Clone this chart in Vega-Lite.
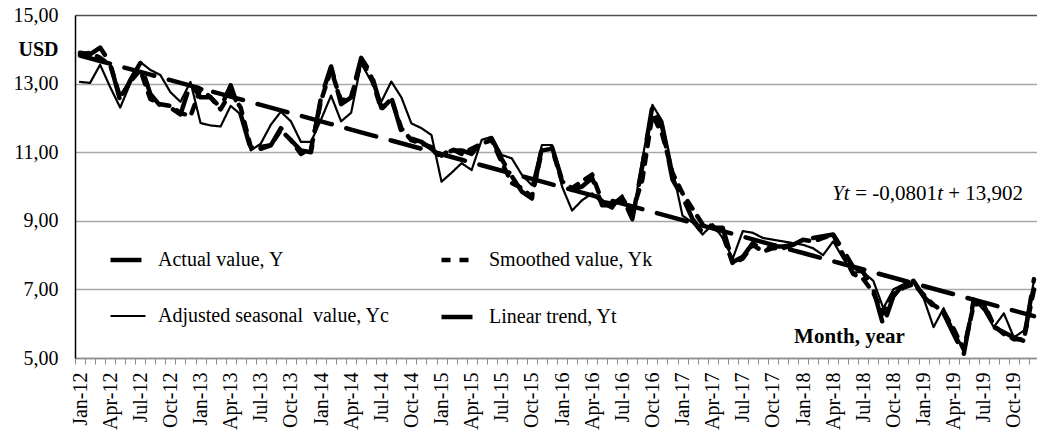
{
  "$schema": "https://vega.github.io/schema/vega-lite/v6.json",
  "width": 964,
  "height": 343,
  "autosize": "none",
  "padding": {"left": 75, "top": 15, "right": 0, "bottom": 75},
  "background": "white",
  "config": {
    "view": {"stroke": null},
    "font": "Liberation Serif",
    "legend": {"padding": 0}
  },
  "data": {"values": [
    {"m":"Jan-12","Y":13.90,"Yk":13.85,"Yc":13.05,"Yt":13.82},
    {"m":"Feb-12","Y":13.85,"Yk":13.90,"Yc":13.02,"Yt":13.74},
    {"m":"Mar-12","Y":14.05,"Yk":13.75,"Yc":13.55,"Yt":13.66},
    {"m":"Apr-12","Y":13.60,"Yk":13.55,"Yc":12.90,"Yt":13.58},
    {"m":"May-12","Y":12.50,"Yk":12.60,"Yc":12.30,"Yt":13.50},
    {"m":"Jun-12","Y":13.10,"Yk":13.05,"Yc":13.00,"Yt":13.42},
    {"m":"Jul-12","Y":13.60,"Yk":13.40,"Yc":13.63,"Yt":13.34},
    {"m":"Aug-12","Y":12.70,"Yk":12.55,"Yc":13.40,"Yt":13.26},
    {"m":"Sep-12","Y":12.35,"Yk":12.40,"Yc":13.25,"Yt":13.18},
    {"m":"Oct-12","Y":12.30,"Yk":12.35,"Yc":12.75,"Yt":13.10},
    {"m":"Nov-12","Y":12.10,"Yk":12.15,"Yc":12.47,"Yt":13.02},
    {"m":"Dec-12","Y":13.00,"Yk":12.05,"Yc":13.05,"Yt":12.94},
    {"m":"Jan-13","Y":12.60,"Yk":12.85,"Yc":11.85,"Yt":12.86},
    {"m":"Feb-13","Y":12.60,"Yk":12.60,"Yc":11.78,"Yt":12.78},
    {"m":"Mar-13","Y":12.30,"Yk":12.25,"Yc":11.75,"Yt":12.70},
    {"m":"Apr-13","Y":12.95,"Yk":12.75,"Yc":12.35,"Yt":12.62},
    {"m":"May-13","Y":12.10,"Yk":12.30,"Yc":12.10,"Yt":12.54},
    {"m":"Jun-13","Y":11.10,"Yk":11.15,"Yc":11.05,"Yt":12.46},
    {"m":"Jul-13","Y":11.15,"Yk":11.10,"Yc":11.25,"Yt":12.38},
    {"m":"Aug-13","Y":11.20,"Yk":11.20,"Yc":11.80,"Yt":12.30},
    {"m":"Sep-13","Y":11.70,"Yk":11.65,"Yc":12.18,"Yt":12.22},
    {"m":"Oct-13","Y":11.35,"Yk":11.35,"Yc":11.90,"Yt":12.14},
    {"m":"Nov-13","Y":11.05,"Yk":10.95,"Yc":11.30,"Yt":12.06},
    {"m":"Dec-13","Y":11.00,"Yk":11.10,"Yc":11.30,"Yt":11.98},
    {"m":"Jan-14","Y":12.60,"Yk":12.50,"Yc":11.95,"Yt":11.90},
    {"m":"Feb-14","Y":13.50,"Yk":13.40,"Yc":12.65,"Yt":11.82},
    {"m":"Mar-14","Y":12.40,"Yk":12.50,"Yc":11.90,"Yt":11.74},
    {"m":"Apr-14","Y":12.60,"Yk":12.60,"Yc":12.15,"Yt":11.66},
    {"m":"May-14","Y":13.75,"Yk":13.65,"Yc":13.60,"Yt":11.58},
    {"m":"Jun-14","Y":13.30,"Yk":13.20,"Yc":13.06,"Yt":11.50},
    {"m":"Jul-14","Y":12.30,"Yk":12.25,"Yc":12.47,"Yt":11.42},
    {"m":"Aug-14","Y":12.60,"Yk":12.55,"Yc":13.06,"Yt":11.34},
    {"m":"Sep-14","Y":11.60,"Yk":11.70,"Yc":12.60,"Yt":11.26},
    {"m":"Oct-14","Y":11.40,"Yk":11.35,"Yc":11.84,"Yt":11.18},
    {"m":"Nov-14","Y":11.30,"Yk":11.25,"Yc":11.70,"Yt":11.10},
    {"m":"Dec-14","Y":11.10,"Yk":11.15,"Yc":11.50,"Yt":11.02},
    {"m":"Jan-15","Y":10.85,"Yk":10.90,"Yc":10.14,"Yt":10.94},
    {"m":"Feb-15","Y":11.05,"Yk":11.10,"Yc":10.40,"Yt":10.86},
    {"m":"Mar-15","Y":11.05,"Yk":10.95,"Yc":10.68,"Yt":10.78},
    {"m":"Apr-15","Y":10.95,"Yk":11.10,"Yc":10.48,"Yt":10.70},
    {"m":"May-15","Y":11.30,"Yk":11.25,"Yc":11.36,"Yt":10.62},
    {"m":"Jun-15","Y":11.40,"Yk":11.35,"Yc":11.45,"Yt":10.54},
    {"m":"Jul-15","Y":10.80,"Yk":10.70,"Yc":10.92,"Yt":10.46},
    {"m":"Aug-15","Y":10.30,"Yk":10.10,"Yc":10.82,"Yt":10.38},
    {"m":"Sep-15","Y":9.85,"Yk":9.95,"Yc":10.34,"Yt":10.30},
    {"m":"Oct-15","Y":9.65,"Yk":9.70,"Yc":10.04,"Yt":10.22},
    {"m":"Nov-15","Y":11.15,"Yk":11.05,"Yc":11.21,"Yt":10.14},
    {"m":"Dec-15","Y":11.15,"Yk":11.10,"Yc":11.21,"Yt":10.06},
    {"m":"Jan-16","Y":10.20,"Yk":10.15,"Yc":10.00,"Yt":9.98},
    {"m":"Feb-16","Y":9.90,"Yk":9.95,"Yc":9.30,"Yt":9.90},
    {"m":"Mar-16","Y":10.00,"Yk":10.15,"Yc":9.60,"Yt":9.82},
    {"m":"Apr-16","Y":10.25,"Yk":10.35,"Yc":9.80,"Yt":9.74},
    {"m":"May-16","Y":9.45,"Yk":9.55,"Yc":9.50,"Yt":9.66},
    {"m":"Jun-16","Y":9.45,"Yk":9.50,"Yc":9.35,"Yt":9.58},
    {"m":"Jul-16","Y":9.70,"Yk":9.65,"Yc":9.75,"Yt":9.50},
    {"m":"Aug-16","Y":9.05,"Yk":9.25,"Yc":9.05,"Yt":9.42},
    {"m":"Sep-16","Y":10.60,"Yk":10.20,"Yc":10.80,"Yt":9.34},
    {"m":"Oct-16","Y":12.35,"Yk":12.10,"Yc":12.38,"Yt":9.26},
    {"m":"Nov-16","Y":11.70,"Yk":11.50,"Yc":11.90,"Yt":9.18},
    {"m":"Dec-16","Y":10.20,"Yk":10.40,"Yc":10.50,"Yt":9.10},
    {"m":"Jan-17","Y":9.70,"Yk":9.80,"Yc":9.15,"Yt":9.02},
    {"m":"Feb-17","Y":9.05,"Yk":9.35,"Yc":8.95,"Yt":8.94},
    {"m":"Mar-17","Y":8.65,"Yk":8.90,"Yc":8.60,"Yt":8.86},
    {"m":"Apr-17","Y":8.80,"Yk":8.85,"Yc":8.90,"Yt":8.78},
    {"m":"May-17","Y":8.80,"Yk":8.60,"Yc":8.50,"Yt":8.70},
    {"m":"Jun-17","Y":7.80,"Yk":7.75,"Yc":7.90,"Yt":8.62},
    {"m":"Jul-17","Y":7.95,"Yk":7.90,"Yc":8.70,"Yt":8.54},
    {"m":"Aug-17","Y":8.35,"Yk":8.30,"Yc":8.65,"Yt":8.46},
    {"m":"Sep-17","Y":8.15,"Yk":8.10,"Yc":8.50,"Yt":8.38},
    {"m":"Oct-17","Y":8.25,"Yk":8.20,"Yc":8.45,"Yt":8.30},
    {"m":"Nov-17","Y":8.25,"Yk":8.20,"Yc":8.40,"Yt":8.22},
    {"m":"Dec-17","Y":8.30,"Yk":8.30,"Yc":8.35,"Yt":8.14},
    {"m":"Jan-18","Y":8.45,"Yk":8.45,"Yc":8.30,"Yt":8.06},
    {"m":"Feb-18","Y":8.50,"Yk":8.40,"Yc":8.20,"Yt":7.98},
    {"m":"Mar-18","Y":8.55,"Yk":8.50,"Yc":8.00,"Yt":7.90},
    {"m":"Apr-18","Y":8.60,"Yk":8.60,"Yc":8.40,"Yt":7.82},
    {"m":"May-18","Y":8.15,"Yk":8.00,"Yc":7.90,"Yt":7.74},
    {"m":"Jun-18","Y":7.65,"Yk":7.45,"Yc":7.50,"Yt":7.66},
    {"m":"Jul-18","Y":7.50,"Yk":7.30,"Yc":7.50,"Yt":7.58},
    {"m":"Aug-18","Y":7.00,"Yk":6.90,"Yc":7.25,"Yt":7.50},
    {"m":"Sep-18","Y":5.95,"Yk":6.30,"Yc":6.45,"Yt":7.42},
    {"m":"Oct-18","Y":6.80,"Yk":6.85,"Yc":7.00,"Yt":7.34},
    {"m":"Nov-18","Y":7.15,"Yk":7.05,"Yc":7.15,"Yt":7.26},
    {"m":"Dec-18","Y":7.25,"Yk":7.15,"Yc":7.20,"Yt":7.18},
    {"m":"Jan-19","Y":6.80,"Yk":6.85,"Yc":6.75,"Yt":7.10},
    {"m":"Feb-19","Y":6.50,"Yk":6.55,"Yc":5.90,"Yt":7.02},
    {"m":"Mar-19","Y":6.30,"Yk":6.35,"Yc":6.45,"Yt":6.94},
    {"m":"Apr-19","Y":5.70,"Yk":5.85,"Yc":5.80,"Yt":6.86},
    {"m":"May-19","Y":5.10,"Yk":5.25,"Yc":5.25,"Yt":6.78},
    {"m":"Jun-19","Y":6.70,"Yk":6.55,"Yc":6.70,"Yt":6.70},
    {"m":"Jul-19","Y":6.55,"Yk":6.60,"Yc":6.40,"Yt":6.62},
    {"m":"Aug-19","Y":5.90,"Yk":5.95,"Yc":5.90,"Yt":6.54},
    {"m":"Sep-19","Y":5.75,"Yk":5.70,"Yc":6.30,"Yt":6.46},
    {"m":"Oct-19","Y":5.60,"Yk":5.55,"Yc":5.60,"Yt":6.38},
    {"m":"Nov-19","Y":5.50,"Yk":5.55,"Yc":5.80,"Yt":6.30},
    {"m":"Dec-19","Y":7.30,"Yk":7.00,"Yc":7.25,"Yt":6.22}
  ]},
  "encoding": {
    "x": {
      "field": "m", "type": "ordinal", "sort": null,
      "scale": {"type": "point", "padding": 0.5},
      "axis": {
        "title": "Month, year",
        "titleFont": "Liberation Serif", "titleFontSize": 21, "titleFontWeight": "bold", "titleColor": "black",
        "titleX": 774, "titleY": -16, "titleBaseline": "alphabetic", "titleAlign": "center", "titleAnchor": null,
        "labelAngle": -90, "labelAlign": "right", "labelBaseline": "middle",
        "labelFont": "Liberation Serif", "labelFontSize": 20, "labelColor": "black",
        "labelPadding": 8, "labelOverlap": false,
        "labelExpr": "indexof(['Jan','Apr','Jul','Oct'], slice(datum.value,0,3)) >= 0 ? datum.value : ''",
        "tickSize": 6, "tickColor": "#8c8c8c", "tickWidth": 1, "tickOffset": -5, "labelOffset": 5,
        "domainColor": "#8c8c8c", "domainWidth": 1.5, "grid": false
      }
    }
  },
  "layer": [
    {
      "transform": [{"fold": ["Y", "Yk", "Yc", "Yt"], "as": ["key", "value"]}],
      "mark": {"type": "line", "color": "black", "strokeCap": "round", "strokeJoin": "round"},
      "encoding": {
        "y": {
          "field": "value", "type": "quantitative",
          "scale": {"domain": [5, 15], "nice": false, "zero": false},
          "axis": {
            "title": "USD", "titleAngle": 0, "titleAlign": "right", "titleBaseline": "middle",
            "titleX": -17, "titleY": 34, "titleFont": "Liberation Serif", "titleFontSize": 20,
            "titleFontWeight": "bold", "titleColor": "black", "titleAnchor": null,
            "values": [5, 7, 9, 11, 13, 15],
            "labelExpr": "replace(format(datum.value, '.2f'), '.', ',')",
            "labelFont": "Liberation Serif", "labelFontSize": 20, "labelColor": "black",
            "labelPadding": 17, "ticks": false,
            "domainColor": "black", "domainWidth": 1.5,
            "grid": true, "gridWidth": 1.5,
            "gridColor": {"condition": {"test": "datum.value === 15", "value": "#505050"}, "value": "#a8a8a8"}
          }
        },
        "strokeDash": {
          "field": "key", "type": "nominal",
          "scale": {"domain": ["Y", "Yk", "Yc", "Yt"], "range": [[31, 15], [9, 9], [1, 0], [31, 15]]},
          "legend": {
            "title": null, "orient": "none", "legendX": 33, "legendY": 225, "columns": 2,
            "values": ["Y", "Yc", "Yk", "Yt"],
            "columnPadding": 42, "rowPadding": 27, "padding": 0,
            "symbolType": "stroke", "symbolSize": 1225, "symbolStrokeColor": "black",
            "labelFont": "Liberation Serif", "labelFontSize": 20, "labelColor": "black",
            "labelOffset": 10, "labelLimit": 400,
            "labelExpr": "datum.label == 'Y' ? 'Actual value, Y' : datum.label == 'Yk' ? 'Smoothed value, Yk' : datum.label == 'Yc' ? 'Adjusted seasonal\u00a0 value, Yc' : 'Linear trend, Yt'"
          }
        },
        "strokeWidth": {
          "field": "key", "type": "nominal",
          "scale": {"type": "ordinal", "domain": ["Y", "Yk", "Yc", "Yt"], "range": [4.5, 4.5, 2.2, 4.5]},
          "legend": {
            "title": null, "orient": "none", "legendX": 33, "legendY": 225, "columns": 2,
            "values": ["Y", "Yc", "Yk", "Yt"],
            "columnPadding": 42, "rowPadding": 27, "padding": 0,
            "symbolType": "stroke", "symbolSize": 1225, "symbolStrokeColor": "black",
            "labelFont": "Liberation Serif", "labelFontSize": 20, "labelColor": "black",
            "labelOffset": 10, "labelLimit": 400,
            "labelExpr": "datum.label == 'Y' ? 'Actual value, Y' : datum.label == 'Yk' ? 'Smoothed value, Yk' : datum.label == 'Yc' ? 'Adjusted seasonal\u00a0 value, Yc' : 'Linear trend, Yt'"
          }
        }
      }
    },
    {
      "transform": [{"filter": "datum.m == 'Apr-18'"}],
      "mark": {"type": "text", "align": "left", "baseline": "alphabetic", "font": "Liberation Serif", "fontSize": 21, "fontStyle": "italic", "color": "black", "dx": -1},
      "encoding": {"y": {"datum": 9.61}, "text": {"value": "Yt"}}
    },
    {
      "transform": [{"filter": "datum.m == 'Apr-18'"}],
      "mark": {"type": "text", "align": "left", "baseline": "alphabetic", "font": "Liberation Serif", "fontSize": 21, "color": "black", "dx": 22},
      "encoding": {"y": {"datum": 9.61}, "text": {"value": "= -0,0801"}}
    },
    {
      "transform": [{"filter": "datum.m == 'Apr-18'"}],
      "mark": {"type": "text", "align": "left", "baseline": "alphabetic", "font": "Liberation Serif", "fontSize": 21, "fontStyle": "italic", "color": "black", "dx": 104},
      "encoding": {"y": {"datum": 9.61}, "text": {"value": "t"}}
    },
    {
      "transform": [{"filter": "datum.m == 'Apr-18'"}],
      "mark": {"type": "text", "align": "left", "baseline": "alphabetic", "font": "Liberation Serif", "fontSize": 21, "color": "black", "dx": 115},
      "encoding": {"y": {"datum": 9.61}, "text": {"value": "+ 13,902"}}
    }
  ]
}
